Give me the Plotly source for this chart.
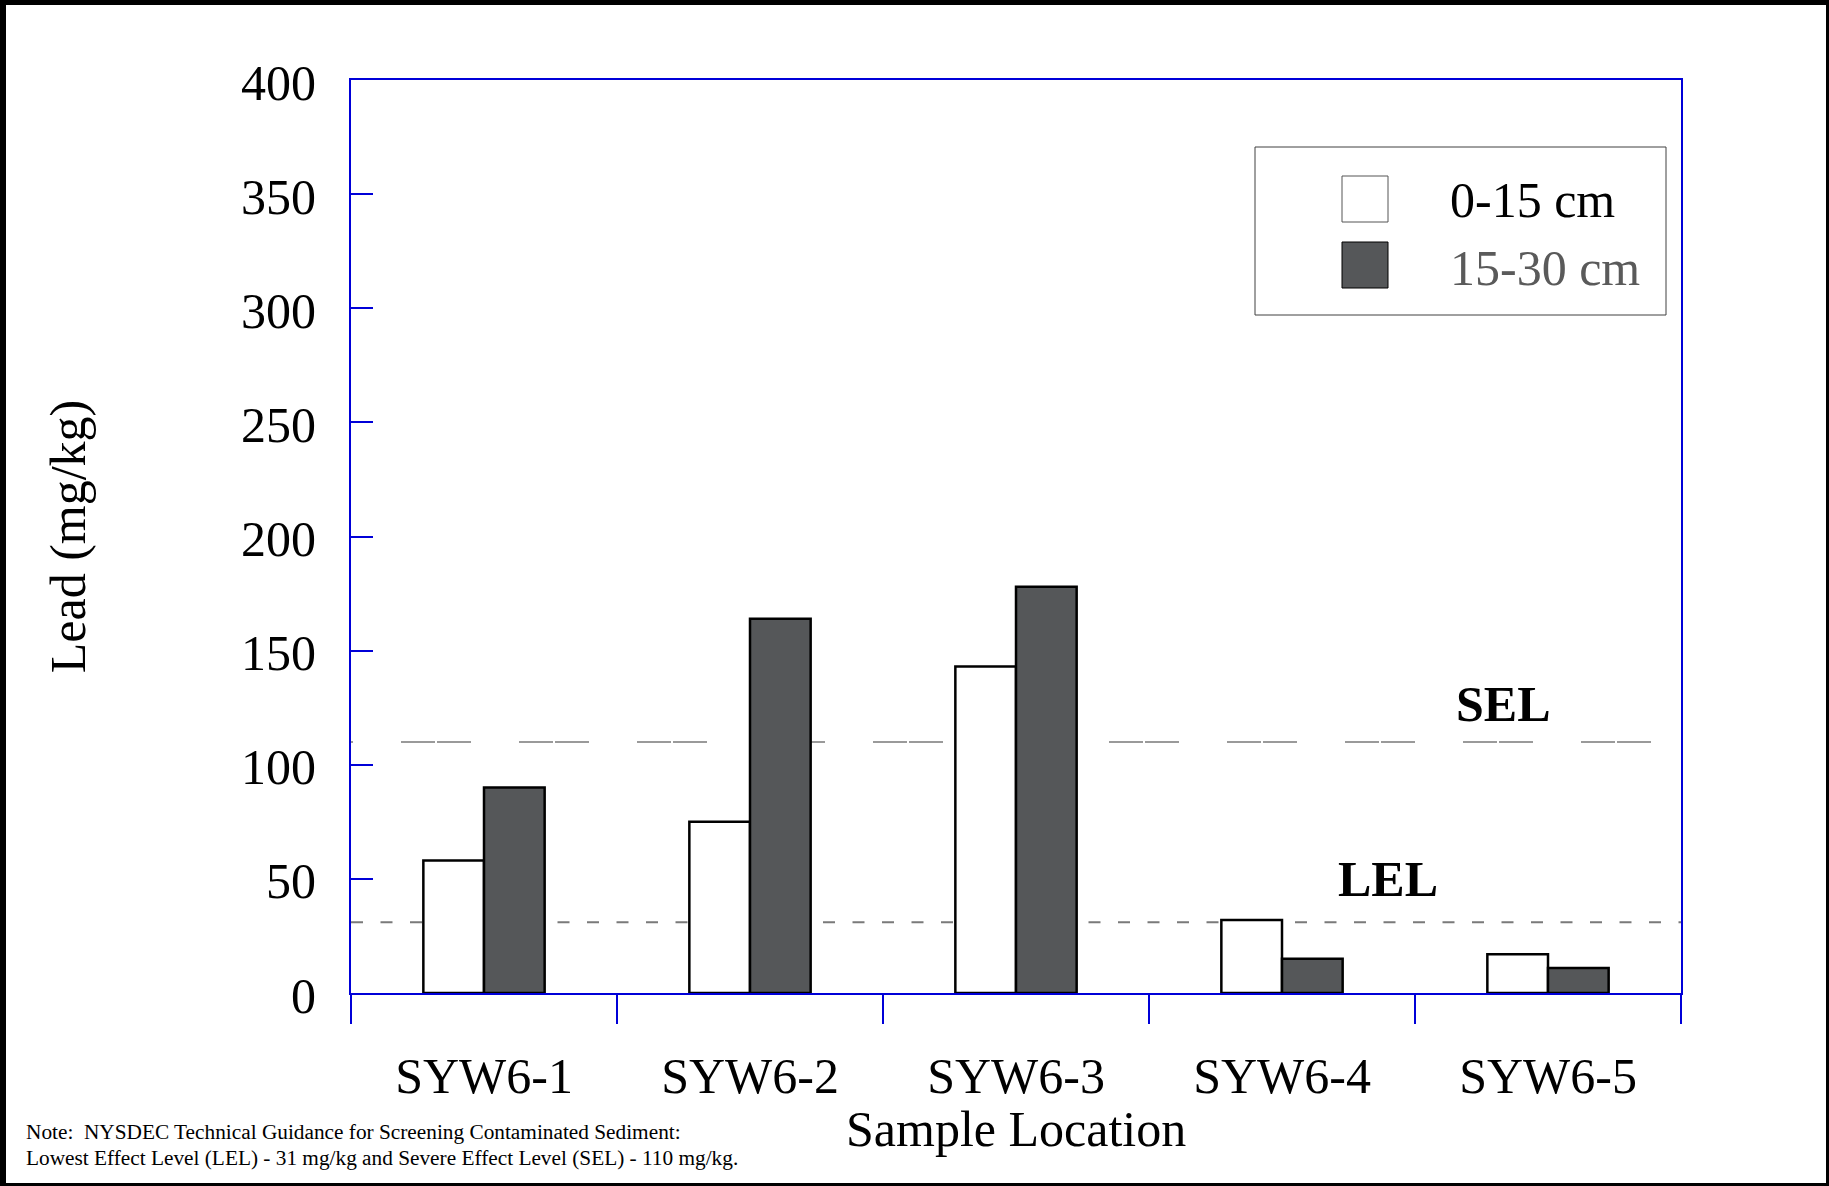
import plotly.graph_objects as go

# ---- data ----
locations = ["SYW6-1", "SYW6-2", "SYW6-3", "SYW6-4", "SYW6-5"]
depth_0_15 = [58, 75, 143, 32, 17]
depth_15_30 = [90, 164, 178, 15, 11]
series_names = ["0-15 cm", "15-30 cm"]
y_ticks = [0, 50, 100, 150, 200, 250, 300, 350, 400]
LEL = 31
SEL = 110

# ---- geometry ----
W, H = 1829, 1186
ML, MR, MT, MB = 351, 148, 80, 193
PW = W - ML - MR
PH = H - MT - MB
BOT = H - MB


def px(x):
    return (x - ML) / PW


def py(y):
    return (BOT - y) / PH


FONT = "Liberation Serif, Times New Roman, serif"
FS = 50
BLUE = "#0000d8"
DARK = "#555759"

fig = go.Figure()
fig.add_trace(go.Bar(
    x=locations, y=depth_0_15, name=series_names[0],
    marker=dict(color="white", line=dict(color="black", width=2.5)),
))
fig.add_trace(go.Bar(
    x=locations, y=depth_15_30, name=series_names[1],
    marker=dict(color=DARK, line=dict(color="black", width=2.5)),
))

shapes = []
# SEL / LEL reference lines (behind bars)
shapes.append(dict(type="line", xref="paper", yref="y", x0=0, x1=1, y0=SEL, y1=SEL,
                   line=dict(color="#9a9a9a", width=2, dash="2px,48px,34px,2px,32px,0px"),
                   layer="below"))
shapes.append(dict(type="line", xref="paper", yref="y", x0=0, x1=1, y0=LEL, y1=LEL,
                   line=dict(color="#7a7a7a", width=2, dash="12px,17.5px"),
                   layer="below"))

# custom legend
shapes.append(dict(type="rect", xref="paper", yref="paper",
                   x0=px(1255), x1=px(1666), y0=py(315), y1=py(147),
                   line=dict(color="#404040", width=1), fillcolor="white", layer="above"))
shapes.append(dict(type="rect", xref="paper", yref="paper",
                   x0=px(1342), x1=px(1388), y0=py(222), y1=py(176),
                   line=dict(color="#555555", width=1), fillcolor="white"))
shapes.append(dict(type="rect", xref="paper", yref="paper",
                   x0=px(1342), x1=px(1388), y0=py(288), y1=py(242),
                   line=dict(color="black", width=1), fillcolor=DARK))

# outer frame
shapes.append(dict(type="line", xref="paper", yref="paper", x0=px(3), x1=px(3), y0=py(0), y1=py(H),
                   line=dict(color="black", width=6)))
shapes.append(dict(type="line", xref="paper", yref="paper", x0=px(0), x1=px(W), y0=py(2.5), y1=py(2.5),
                   line=dict(color="black", width=5)))
shapes.append(dict(type="line", xref="paper", yref="paper", x0=px(W - 1.5), x1=px(W - 1.5), y0=py(0), y1=py(H),
                   line=dict(color="black", width=3)))
shapes.append(dict(type="line", xref="paper", yref="paper", x0=px(0), x1=px(W), y0=py(H - 1.5), y1=py(H - 1.5),
                   line=dict(color="black", width=3)))

annotations = [
    dict(text="Sample Location", xref="paper", yref="paper", x=0.5, y=py(1129),
         xanchor="center", yanchor="middle", showarrow=False,
         font=dict(family=FONT, size=FS, color="black")),
    dict(text="<b>SEL</b>", xref="paper", yref="paper", x=px(1503), y=py(704),
         xanchor="center", yanchor="middle", showarrow=False,
         font=dict(family=FONT, size=FS, color="black")),
    dict(text="<b>LEL</b>", xref="paper", yref="paper", x=px(1388), y=py(879),
         xanchor="center", yanchor="middle", showarrow=False,
         font=dict(family=FONT, size=FS, color="black")),
    dict(text=series_names[0], xref="paper", yref="paper", x=px(1448), y=py(200),
         xanchor="left", yanchor="middle", showarrow=False,
         font=dict(family=FONT, size=FS, color="black")),
    dict(text=series_names[1], xref="paper", yref="paper", x=px(1448), y=py(268),
         xanchor="left", yanchor="middle", showarrow=False,
         font=dict(family=FONT, size=FS, color="#5a5a5a")),
    dict(text="Note:  NYSDEC Technical Guidance for Screening Contaminated Sediment:",
         xref="paper", yref="paper", x=px(24), y=py(1132),
         xanchor="left", yanchor="middle", showarrow=False,
         font=dict(family=FONT, size=21.3, color="black")),
    dict(text="Lowest Effect Level (LEL) - 31 mg/kg and Severe Effect Level (SEL) - 110 mg/kg.",
         xref="paper", yref="paper", x=px(24), y=py(1158),
         xanchor="left", yanchor="middle", showarrow=False,
         font=dict(family=FONT, size=21.3, color="black")),
]

fig.update_layout(
    width=W, height=H,
    margin=dict(l=ML, r=MR, t=MT, b=MB, pad=0),
    paper_bgcolor="white", plot_bgcolor="white",
    barmode="group", bargap=0.544, bargroupgap=0,
    showlegend=False,
    font=dict(family=FONT, size=FS, color="black"),
    shapes=shapes, annotations=annotations,
    xaxis=dict(
        type="category",
        showline=True, linecolor=BLUE, linewidth=2, mirror=True,
        ticks="outside", tickson="boundaries", ticklen=29, tickwidth=2, tickcolor=BLUE,
        showgrid=False, zeroline=False,
        tickfont=dict(family=FONT, size=FS, color="black"),
        ticklabelstandoff=38,
    ),
    yaxis=dict(
        range=[0, 400], tickvals=y_ticks,
        showline=True, linecolor=BLUE, linewidth=2, mirror=True,
        ticks="inside", ticklen=22, tickwidth=2, tickcolor=BLUE,
        showgrid=False, zeroline=False,
        tickfont=dict(family=FONT, size=FS, color="black"),
        ticklabelstandoff=23, ticklabelshift=2,
        title=dict(text="Lead (mg/kg)", font=dict(family=FONT, size=FS, color="black"), standoff=140),
    ),
)

fig.write_html("out.html")
